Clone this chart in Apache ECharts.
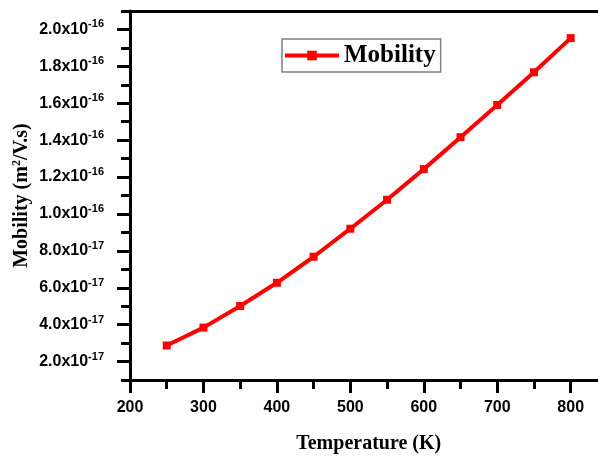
<!DOCTYPE html>
<html><head><meta charset="utf-8">
<script src="https://cdn.jsdelivr.net/npm/echarts@6/dist/echarts.min.js"></script>
<style>html,body{margin:0;padding:0;background:#fff}#c{width:598px;height:456px}</style>
</head><body><div id="c"></div>
<script>
const temperature = [250, 300, 350, 400, 450, 500, 550, 600, 650, 700, 750, 800];
const mobility = [2.87e-17, 3.84e-17, 5.01e-17, 6.27e-17, 7.68e-17, 9.20e-17, 1.077e-16, 1.243e-16, 1.416e-16, 1.591e-16, 1.768e-16, 1.953e-16];
const yTicks = [1e-17, 2e-17, 3e-17, 4e-17, 5e-17, 6e-17, 7e-17, 8e-17, 9e-17, 1.0e-16, 1.1e-16, 1.2e-16, 1.3e-16, 1.4e-16, 1.5e-16, 1.6e-16, 1.7e-16, 1.8e-16, 1.9e-16, 2.0e-16, 2.1e-16];
const xTickLabels = ['200', '300', '400', '500', '600', '700', '800'];

const chart = echarts.init(document.getElementById('c'));
const isMajor = (i) => i % 2 === 1;
const fmtY = (v) => {
  const s = Number(v).toExponential(1).split('e');
  return '{m|' + s[0] + 'x10}{s|' + s[1] + '}';
};
const lab = {fontFamily: 'Liberation Sans', fontWeight: 'bold', fontSize: 16, color: '#000'};
const axLine = {show: true, onZero: false, lineStyle: {color: '#000', width: 3}};

chart.setOption({
  animation: false,
  grid: {left: 130, top: 11, height: 369, width: 477.4, containLabel: false, outerBoundsMode: 'none'},
  legend: {
    data: ['Mobility'], left: 282, top: 39,
    padding: [4, 5, 4, 1], itemWidth: 54, itemHeight: 12,
    borderColor: '#808080', borderWidth: 1.5,
    lineStyle: {width: 4},
    textStyle: {fontFamily: 'Liberation Serif', fontWeight: 'bold', fontSize: 25, color: '#000'}
  },
  xAxis: [
    {type: 'value', min: 200, max: 850, interval: 100, position: 'bottom',
     axisLine: axLine, splitLine: {show: false},
     axisTick: {show: true, inside: false, length: 13, lineStyle: {width: 3, color: '#000'}},
     axisLabel: Object.assign({margin: 20, formatter: (v) => xTickLabels.indexOf(String(v)) >= 0 ? String(v) : ''}, lab),
     name: 'Temperature (K)', nameLocation: 'middle', nameGap: 54,
     nameTextStyle: {fontFamily: 'Liberation Serif', fontWeight: 'bold', fontSize: 20, color: '#000'}},
    {type: 'value', min: 200, max: 850, interval: 50, position: 'bottom',
     axisLine: {show: false}, splitLine: {show: false}, axisLabel: {show: false},
     axisTick: {show: true, length: 9, lineStyle: {width: 3, color: '#000'}}},
    {type: 'value', min: 200, max: 850, interval: 100, position: 'top',
     axisLine: axLine, splitLine: {show: false}, axisLabel: {show: false}, axisTick: {show: false}}
  ],
  yAxis: [
    {type: 'value', min: 1e-17, max: 2.1e-16, interval: 1e-17, position: 'left',
     axisLine: axLine, splitLine: {show: false}, axisLabel: {show: false},
     axisTick: {show: true, length: 9, lineStyle: {width: 3, color: '#000'}},
     name: 'Mobility (m{sup|2}/V.s)', nameLocation: 'middle', nameGap: 98,
     nameTextStyle: {fontFamily: 'Liberation Serif', fontWeight: 'bold', fontSize: 20, color: '#000',
       rich: {sup: {fontFamily: 'Liberation Serif', fontWeight: 'bold', fontSize: 12, color: '#000', padding: [0, 0, 9, 0]}}}},
    {type: 'category', data: yTicks.map(String), boundaryGap: false, position: 'left',
     axisLine: {show: false, onZero: false}, splitLine: {show: false},
     axisTick: {show: true, length: 13, interval: isMajor, lineStyle: {width: 3, color: '#000'}},
     axisLabel: {show: true, margin: 26, interval: isMajor,
       formatter: (v) => fmtY(v),
       rich: {
         m: {fontFamily: 'Liberation Sans', fontWeight: 'bold', fontSize: 16, color: '#000'},
         s: {fontFamily: 'Liberation Sans', fontWeight: 'bold', fontSize: 11, color: '#000', padding: [0, 0, 10, 0]}
       }}}
  ],
  series: [{
    name: 'Mobility', type: 'line', xAxisIndex: 0, yAxisIndex: 0,
    data: temperature.map((t, i) => [t, mobility[i]]),
    symbol: 'rect', symbolSize: 8,
    lineStyle: {color: '#ff0000', width: 4},
    itemStyle: {color: '#ff0000'}
  }]
});
</script></body></html>
